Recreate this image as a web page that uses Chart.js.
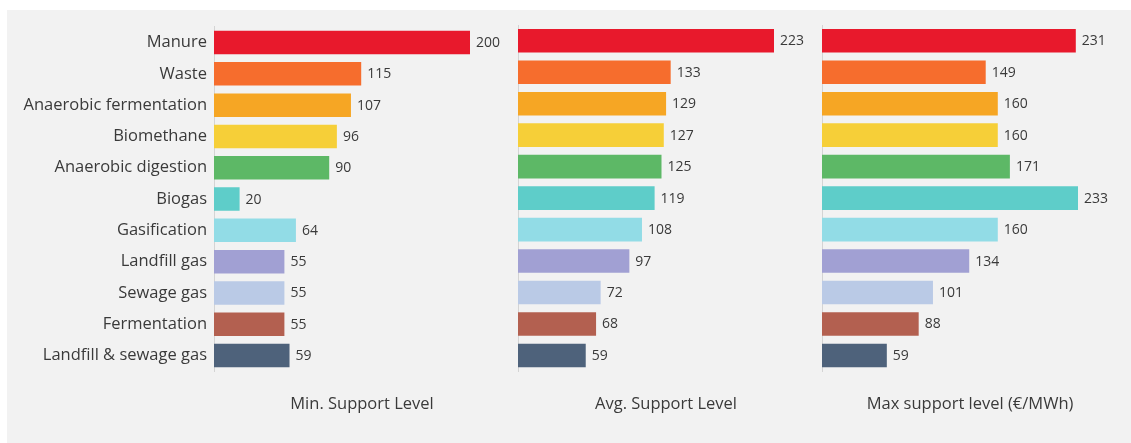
<!DOCTYPE html>
<html>
<head>
<meta charset="utf-8">
<script src="https://cdn.jsdelivr.net/npm/chart.js@4/dist/chart.umd.min.js"></script>
<style>
  html, body { margin: 0; padding: 0; background: #ffffff; }
  body { width: 1131px; height: 443px; position: relative; overflow: hidden; }
  #board { position: absolute; left: 7px; top: 10px; width: 1124px; height: 433px; background: #f2f2f2; }
  #board canvas { position: absolute; top: 0; }
</style>
</head>
<body>
<div id="board">
  <canvas id="pMin" width="503" height="433" style="left:0px"></canvas>
  <canvas id="pAvg" width="296" height="433" style="left:511px"></canvas>
  <canvas id="pMax" width="296" height="433" style="left:815px"></canvas>
</div>
<script>
// Technologies, top to bottom
const categories = [
  'Manure', 'Waste', 'Anaerobic fermentation', 'Biomethane', 'Anaerobic digestion',
  'Biogas', 'Gasification', 'Landfill gas', 'Sewage gas', 'Fermentation', 'Landfill & sewage gas'
];

// Support levels in €/MWh
const minSupport = [200, 115, 107, 96, 90, 20, 64, 55, 55, 55, 59];
const avgSupport = [223, 133, 129, 127, 125, 119, 108, 97, 72, 68, 59];
const maxSupport = [231, 149, 160, 160, 171, 233, 160, 134, 101, 88, 59];

// Panel titles
const panelTitles = ['Min. Support Level', 'Avg. Support Level', 'Max support level (€/MWh)'];

// One colour per technology
const barColors = [
  '#e8192c', '#f66d2d', '#f6a624', '#f6cf38', '#5db866',
  '#5ecdc9', '#92dce6', '#a1a0d3', '#bacae6', '#b36050', '#4e627b'
];

const FONT = '"Open Sans", "Noto Sans", sans-serif';
const TEXT = '#3a3a3a';

// Writes each bar's value just past its end
const valueLabels = {
  id: 'valueLabels',
  afterDatasetsDraw(chart) {
    const { ctx } = chart;
    const meta = chart.getDatasetMeta(0);
    const data = chart.data.datasets[0].data;
    ctx.save();
    ctx.font = '14px ' + FONT;
    ctx.fillStyle = TEXT;
    ctx.textAlign = 'left';
    ctx.textBaseline = 'middle';
    meta.data.forEach((bar, i) => {
      ctx.fillText(String(data[i]), bar.x + 6, bar.y + 0.5);
    });
    ctx.restore();
  }
};

function makePanel(canvasId, values, title, withLabels) {
  const peak = Math.max(...values);
  new Chart(document.getElementById(canvasId), {
    type: 'bar',
    data: {
      labels: categories,
      datasets: [{
        data: values,
        backgroundColor: barColors,
        borderWidth: 0,
        barPercentage: 0.75,
        categoryPercentage: 1.0
      }]
    },
    options: {
      indexAxis: 'y',
      responsive: false,
      animation: false,
      layout: { padding: { top: 15, right: 0, bottom: 0, left: 0 } },
      plugins: { legend: { display: false }, tooltip: { enabled: false } },
      scales: {
        x: {
          min: 0,
          max: peak * 296 / 256,
          grid: { display: false, drawTicks: false },
          border: { display: false },
          ticks: { display: false },
          title: {
            display: true,
            text: title,
            color: TEXT,
            font: { family: FONT, size: 16.5 },
            padding: { top: 23.4, bottom: 28.6 }
          }
        },
        y: {
          grid: { display: false, drawTicks: false },
          border: { display: true, color: '#d4d4d4', width: 1, dash: [1, 3] },
          ticks: {
            display: withLabels,
            padding: 7,
            color: TEXT,
            font: { family: FONT, size: 16.5 }
          },
          afterFit(scale) { scale.width = withLabels ? 207 : 0; }
        }
      }
    },
    plugins: [valueLabels]
  });
}

makePanel('pMin', minSupport, panelTitles[0], true);
makePanel('pAvg', avgSupport, panelTitles[1], false);
makePanel('pMax', maxSupport, panelTitles[2], false);
</script>
</body>
</html>
